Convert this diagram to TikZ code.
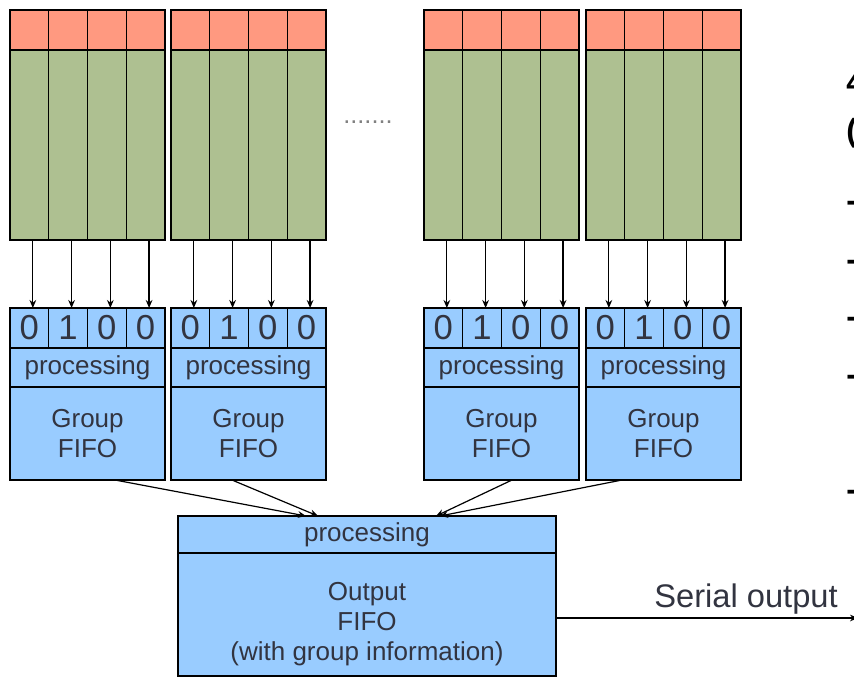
\documentclass[tikz,border=0pt]{standalone}
\usepackage{fontspec}
\setmainfont{Liberation Sans}
\usepackage{xcolor}
\usepackage{tikz}
\usetikzlibrary{arrows.meta,positioning,calc}

\definecolor{flagred}{RGB}{255,153,128}
\definecolor{bufgreen}{RGB}{174,192,145}
\definecolor{fifoblue}{RGB}{153,204,255}
\definecolor{txtgray}{RGB}{50,52,64}

\begin{document}
\begin{tikzpicture}[x=0.75pt, y=-0.75pt,
  cell/.style={draw, line width=1pt, inner sep=0pt, outer sep=0pt,
    minimum width=29.0625pt},
  flag/.style={cell, fill=flagred, minimum height=30pt},
  buf/.style={cell, fill=bufgreen, minimum height=142.5pt},
  bit/.style={cell, fill=fifoblue, minimum height=30pt,
    text=txtgray, font=\fontsize{26}{28}\selectfont},
  proc/.style={draw, line width=1pt, fill=fifoblue, inner sep=0pt, outer sep=0pt,
    minimum width=116.25pt, minimum height=29.25pt,
    text=txtgray, font=\fontsize{19.5}{22}\selectfont},
  fifo/.style={proc, minimum height=69.75pt, align=center,
    font=\fontsize{19.5}{22.5}\selectfont},
  edge/.style={font=\fontsize{24}{28}\selectfont\bfseries, anchor=base west, inner sep=0pt},
  arr/.style={-{Stealth[length=6pt,width=5pt]}, line width=0.9pt}]
  \useasboundingbox (0,0) rectangle (854,687);
  \clip (0,0) rectangle (854,687);
  % Channel banks, flag bits and group FIFOs
  \foreach \g/\xl in {1/10,2/171,3/424,4/586} {
    \foreach \c/\b in {1/0,2/1,3/0,4/0} {
      \node[flag] (flag\g\c) at ({\xl+38.75*\c-19.375},30) {};
      \node[buf]  (buf\g\c)  at ({\xl+38.75*\c-19.375},145) {};
      \node[bit]  (bit\g\c)  at ({\xl+38.75*\c-19.375},328) {\b};
      \draw[arr] ([xshift=2.6pt]buf\g\c.south) -- ([xshift=2.6pt]bit\g\c.north);
    }
    \node[proc] (proc\g) at ({\xl+77.5},367.5) {processing};
    \node[fifo, below=0pt of proc\g] (fifo\g) {Group\\FIFO};
  }
  \node[text=gray, font=\fontsize{19}{20}\selectfont, anchor=base] (dots) at (368,123) {.......};
  % Output FIFO
  \node[proc, minimum width=283.5pt, minimum height=27.75pt] (oproc) at (367,534.5) {processing};
  \node[fifo, minimum width=283.5pt, minimum height=92.25pt, below=0pt of oproc] (obody)
    {\rule{0pt}{27.5pt}Output\\FIFO\\(with group information)};
  % Arrows into the output FIFO
  \draw[arr] ($(fifo1.south west)+(105,0)$) -- ($(oproc.north west)+(128,0)$);
  \draw[arr] ($(fifo2.south west)+(61,0)$)  -- ($(oproc.north west)+(140,0)$);
  \draw[arr] ($(fifo3.south west)+(88,0)$)  -- ($(oproc.north west)+(258,0)$);
  \draw[arr] ($(fifo4.south west)+(36,0)$)  -- ($(oproc.north west)+(262,0)$);
  % Serial output
  \coordinate (serialend) at (858,618);
  \draw[arr] ($(obody.east)+(0,3.5)$) -- (serialend);
  \node[text=txtgray, font=\fontsize{24.5}{28}\selectfont, anchor=base east, inner sep=0pt]
    (serial) at (838,607) {Serial output};
  % Text running off the right edge
  \node[edge] (note1) at (846,93)  {4};
  \node[edge] (note2) at (846,141) {(};
  \node[edge] (note3) at (846,211) {-};
  \node[edge] (note4) at (846,270) {-};
  \node[edge] (note5) at (846,327) {-};
  \node[edge] (note6) at (846,385) {-};
  \node[edge] (note7) at (846,500) {-};
\end{tikzpicture}
\end{document}
